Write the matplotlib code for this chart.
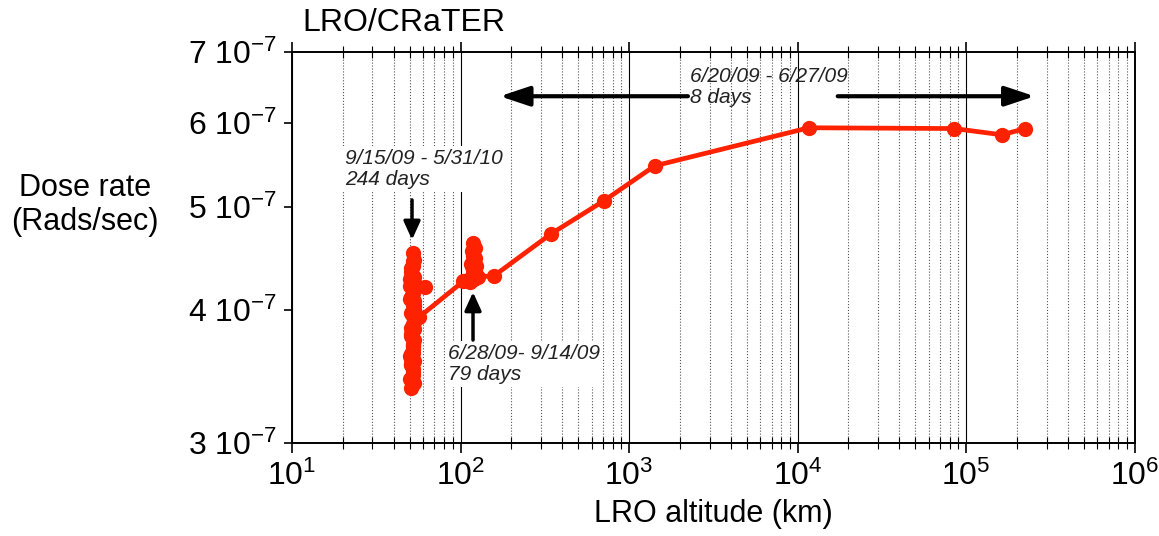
import matplotlib

matplotlib.use("Agg")
import numpy as np
from matplotlib import pyplot as plt
from matplotlib.ticker import FixedLocator, LogLocator, NullLocator, NullFormatter

plt.rcParams["font.family"] = ["Liberation Sans", "DejaVu Sans"]
plt.rcParams["mathtext.fontset"] = "custom"
plt.rcParams["mathtext.rm"] = "Liberation Sans"
plt.rcParams["mathtext.it"] = "Liberation Sans:italic"
plt.rcParams["mathtext.default"] = "regular"

# altitude in km, dose rate in units of 1e-7 rad/s, in time order
transfer_alt = [224000, 163000, 85000, 11650, 1420, 708, 344, 158]
transfer_dose = [5.93, 5.85, 5.93, 5.94, 5.47, 5.07, 4.72, 4.31]

# 6/28/09 - 9/14/09 commissioning orbit
commis_alt = [126, 121, 118, 120, 117, 119, 121, 118, 116, 122, 120, 119, 117,
              121, 123, 118, 120, 124, 119, 117, 115, 113, 110, 104]
commis_dose = [4.30, 4.32, 4.38, 4.45, 4.55, 4.63, 4.58, 4.50, 4.42, 4.35, 4.30, 4.33, 4.40,
               4.48, 4.40, 4.32, 4.28, 4.30, 4.36, 4.29, 4.27, 4.25, 4.27, 4.26]

# 9/15/09 - 5/31/10 mapping orbit
mapping_alt = [56.6, 53, 52, 51, 52, 53, 52, 51, 50, 52, 51, 53, 52, 61.5, 53, 52, 51,
               50, 52, 53, 51, 52, 50, 51, 52, 53, 51, 52, 50, 51, 52, 53, 52, 51,
               52, 51, 53, 52, 50, 51, 52, 53, 52, 51, 52, 53, 51, 52]
mapping_dose = [3.94, 4.05, 4.20, 4.35, 4.53, 4.46, 4.40, 4.25, 4.10, 3.95, 3.85, 4.00,
                4.15, 4.21, 4.30, 4.45, 4.38, 4.22, 4.05, 3.90, 3.80, 3.70, 3.62, 3.55,
                3.65, 3.75, 3.60, 3.50, 3.45, 3.38, 3.48, 3.58, 3.68, 3.78, 3.88, 3.98,
                4.08, 4.18, 4.28, 4.12, 3.97, 3.84, 3.72, 3.64, 3.52, 3.42, 3.56, 3.70]

y_ticks = [3e-7, 4e-7, 5e-7, 6e-7, 7e-7]
y_tick_labels = [r"$3\ 10^{-7}$", r"$4\ 10^{-7}$", r"$5\ 10^{-7}$",
                 r"$6\ 10^{-7}$", r"$7\ 10^{-7}$"]
x_ticks = [1e1, 1e2, 1e3, 1e4, 1e5, 1e6]
x_tick_labels = [r"$10^{1}$", r"$10^{2}$", r"$10^{3}$", r"$10^{4}$", r"$10^{5}$", r"$10^{6}$"]

altitude = np.array(transfer_alt + commis_alt + mapping_alt, dtype=float)
dose = np.array(transfer_dose + commis_dose + mapping_dose) * 1e-7

fig = plt.figure(figsize=(11.59, 5.36), dpi=100)
ax = fig.add_axes([0.252, 0.1735, 0.727, 0.7295])

ax.plot(altitude, dose, color="#ff2200", lw=3.4, marker="o", ms=11,
        markeredgewidth=0, zorder=4)

ax.set_xscale("log")
ax.set_yscale("log")
ax.set_xlim(10, 1e6)
ax.set_ylim(3e-7, 7e-7)

ax.xaxis.set_major_locator(FixedLocator(x_ticks))
ax.set_xticklabels(x_tick_labels)
ax.xaxis.set_minor_locator(LogLocator(base=10, subs=range(2, 10)))
ax.xaxis.set_minor_formatter(NullFormatter())
ax.yaxis.set_major_locator(FixedLocator(y_ticks))
ax.set_yticklabels(y_tick_labels)
ax.yaxis.set_minor_locator(NullLocator())

ax.grid(axis="x", which="major", color="black", lw=0.8, ls="-")
ax.grid(axis="x", which="minor", color="#555555", lw=0.8, ls=":")
ax.set_axisbelow(True)

ax.tick_params(axis="x", which="major", direction="out", length=7, width=1.2,
               top=True, labelsize=23, pad=6)
ax.tick_params(axis="x", which="minor", direction="inout", length=8, width=0.8, top=True)
ax.tick_params(axis="y", which="major", direction="out", length=6, width=1.2,
               labelsize=23, pad=5)
for spine in ax.spines.values():
    spine.set_linewidth(1.4)

ax.set_xlabel("LRO altitude (km)", fontsize=22, labelpad=5)
fig.text(85 / 1159, 1 - 205 / 536, "Dose rate\n(Rads/sec)", fontsize=22,
         ha="center", va="center", linespacing=1.2)
fig.text(302 / 1159, 1 - 23 / 536, "LRO/CRaTER", fontsize=23, ha="left", va="center")

# arrows and period labels
big_head = "-|>,head_length=1.8,head_width=0.6"
small_head = "-|>,head_length=1.1,head_width=0.5"
ax.annotate("", xy=(171, 6.36e-7), xytext=(2234, 6.36e-7),
            arrowprops=dict(arrowstyle=big_head, lw=3, color="black",
                            shrinkA=0, shrinkB=0), zorder=5)
ax.annotate("", xy=(255000, 6.36e-7), xytext=(17300, 6.36e-7),
            arrowprops=dict(arrowstyle=big_head, lw=3, color="black",
                            shrinkA=0, shrinkB=0), zorder=5)
ax.text(2296, 6.49e-7, "6/20/09 - 6/27/09\n8 days", style="italic", fontsize=15,
        color="#222222", ha="left", va="center", linespacing=1.15)

ax.annotate("", xy=(51.5, 4.66e-7), xytext=(51.5, 5.08e-7),
            arrowprops=dict(arrowstyle=small_head, lw=2.5, color="black",
                            shrinkA=0, shrinkB=0), zorder=5)
ax.text(20.6, 5.43e-7, "9/15/09 - 5/31/10\n244 days", style="italic", fontsize=15,
        color="#222222", ha="left", va="center", linespacing=1.15, zorder=3,
        bbox=dict(facecolor="white", edgecolor="none", pad=2))

ax.annotate("", xy=(118.5, 4.16e-7), xytext=(118.5, 3.75e-7),
            arrowprops=dict(arrowstyle=small_head, lw=2.5, color="black",
                            shrinkA=0, shrinkB=0), zorder=5)
ax.text(84.1, 3.56e-7, "6/28/09- 9/14/09\n79 days", style="italic", fontsize=15,
        color="#222222", ha="left", va="center", linespacing=1.15, zorder=3,
        bbox=dict(facecolor="white", edgecolor="none", pad=2))

fig.savefig("out.png", dpi=100)
